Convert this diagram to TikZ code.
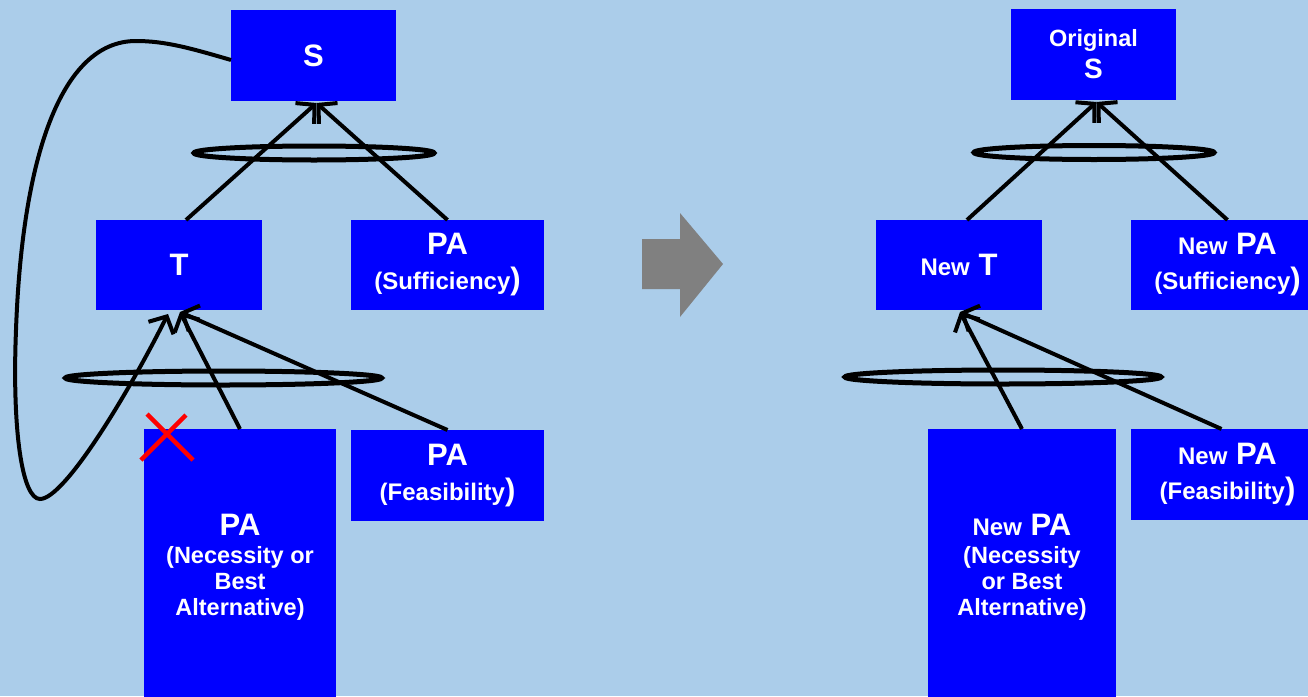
\documentclass[tikz,border=0pt]{standalone}
\usepackage{fontspec}
\setmainfont{Liberation Sans}
\usetikzlibrary{arrows.meta,shapes.geometric}
\definecolor{bgblue}{RGB}{171,205,234}
\definecolor{boxblue}{RGB}{0,0,255}
\definecolor{shiftgray}{RGB}{128,128,128}
\definecolor{crossred}{RGB}{255,0,0}
% font sizes used in the boxes
\newcommand\fsbig{\fontsize{31}{35}\selectfont}
\newcommand\fsmid{\fontsize{24}{35}\selectfont}
\newcommand\fsnote[1]{{\fontsize{23.5}{26}\selectfont #1}}
\begin{document}
\begin{tikzpicture}[x=1pt,y=-1pt,
  box/.style={fill=boxblue, text=white, font=\bfseries\fsbig, align=center,
              inner sep=0pt, outer sep=0pt},
  tallbox/.style={box, font=\bfseries\fontsize{31}{26}\selectfont},
  ring/.style={draw=black, line width=5pt, ellipse, inner sep=0pt,
               minimum height=14pt},
  conn/.style={draw=black, line width=4pt,
               -{Straight Barb[length=13pt,width=28pt]}},
  xmark/.style={draw=crossred, line width=4.5pt}
]
\useasboundingbox[fill=bgblue] (0,0) rectangle (1308,696);

% ---------- before ----------
\node[box, minimum width=165pt, minimum height=91pt] (S) at (313.5,55.5) {S};
\node[box, minimum width=166pt, minimum height=90pt] (T) at (179,265) {T};
\node[box, minimum width=193pt, minimum height=90pt] (PAs) at (447.5,265)
  {PA\\{\fsmid (Sufficiency})};
\node[tallbox, minimum width=192pt, minimum height=277pt] (PAn) at (240,567.5)
  {PA\\[2pt]\fsnote{(Necessity or}\\\fsnote{Best}\\\fsnote{Alternative)}};
\node[box, minimum width=193pt, minimum height=91pt] (PAf) at (447.5,475.5)
  {PA\\{\fsmid (Feasibility})};

\node[ring, minimum width=240pt] (andS) at (314,153) {};
\node[ring, minimum width=316pt] (andT) at (223.5,378) {};

\draw[conn] ([xshift=7pt]T.north) -- ([xshift=3pt,yshift=-2pt]S.south);
\draw[conn] (PAs.north) -- ([xshift=3pt,yshift=-2pt]S.south);
\draw[conn] (PAn.north) -- ([xshift=1pt,yshift=-2pt]T.south);
\draw[conn] (PAf.north) -- ([xshift=1pt,yshift=-2pt]T.south);

% loop from S back down to T
\draw[conn] ([yshift=-4.5pt]S.west)
  .. controls (190,48) and (165,41) .. (136,41)
  .. controls (60,41) and (22,160) .. (16,330)
  .. controls (12,430) and (22,499) .. (40,499)
  .. controls (65,499) and (130,390) .. ([xshift=-11pt,yshift=-4pt]T.south);

% the struck-out necessity link
\draw[xmark] ([xshift=3pt,yshift=15pt]PAn.north west) -- ([xshift=49pt,yshift=-31pt]PAn.north west);
\draw[xmark] ([xshift=42pt,yshift=14pt]PAn.north west) -- ([xshift=-3pt,yshift=-31pt]PAn.north west);

% ---------- transition arrow ----------
\fill[shiftgray] (642,239) -- (680,239) -- (680,213) -- (723,264)
  -- (680,317) -- (680,289) -- (642,289) -- cycle;

% ---------- after ----------
\node[box, minimum width=165pt, minimum height=91pt,
      font=\bfseries\fontsize{28}{32}\selectfont] (OS) at (1093.5,54.5)
  {{\fontsize{23.5}{32}\selectfont Original}\\S};
\node[box, minimum width=166pt, minimum height=90pt] (NT) at (959,265)
  {{\fsmid New} T};
\node[box, minimum width=193pt, minimum height=90pt] (NPAs) at (1227.5,265)
  {{\fsmid New} PA\\{\fsmid (Sufficiency})};
\node[tallbox, minimum width=188pt, minimum height=277pt] (NPAn) at (1022,567.5)
  {{\fontsize{24}{26}\selectfont New} PA\\[2pt]\fsnote{(Necessity}\\\fsnote{or Best}\\\fsnote{Alternative)}};
\node[box, minimum width=193pt, minimum height=91pt] (NPAf) at (1227.5,474.5)
  {{\fsmid New} PA\\{\fsmid (Feasibility})};

\node[ring, minimum width=240pt] (andOS) at (1094,152.5) {};
\node[ring, minimum width=316pt] (andNT) at (1003,377) {};

\draw[conn] ([xshift=8pt]NT.north) -- ([xshift=3pt,yshift=-2pt]OS.south);
\draw[conn] (NPAs.north) -- ([xshift=3pt,yshift=-2pt]OS.south);
\draw[conn] (NPAn.north) -- ([xshift=1pt,yshift=-2pt]NT.south);
\draw[conn] ([xshift=-6pt]NPAf.north) -- ([xshift=1pt,yshift=-2pt]NT.south);
\end{tikzpicture}
\end{document}
